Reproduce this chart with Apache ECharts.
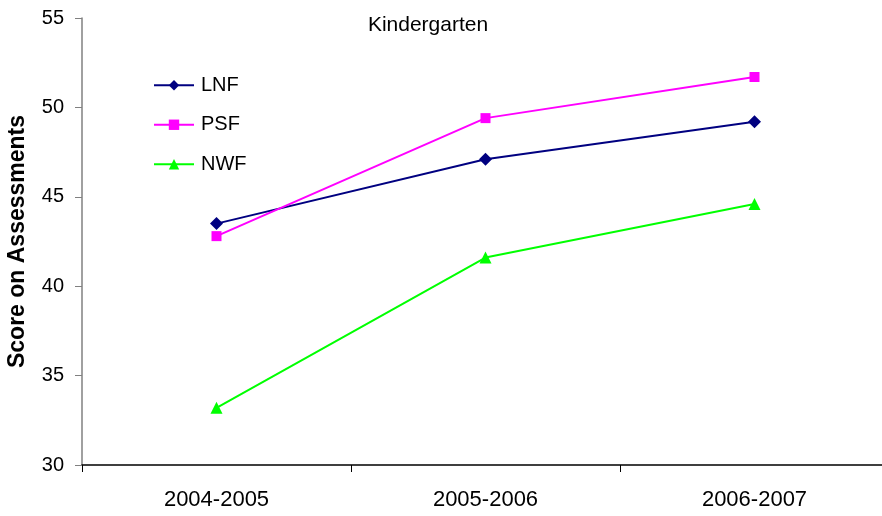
<!DOCTYPE html>
<html><head><meta charset="utf-8">
<script src="https://cdn.jsdelivr.net/npm/echarts@6/dist/echarts.min.js"></script>
<style>html,body{margin:0;padding:0;background:#fff}#c{width:882px;height:516px}</style>
</head><body><div id="c"></div>
<script>
const categories = ['2004-2005', '2005-2006', '2006-2007'];
const lnf = [43.5, 47.1, 49.2];
const psf = [42.8, 49.4, 51.7];
const nwf = [33.2, 41.6, 44.6];
const yTicks = [30, 35, 40, 45, 50, 55];

const font = '"Liberation Sans", Arial, sans-serif';
const chart = echarts.init(document.getElementById('c'));
chart.setOption({
  animation: false,
  backgroundColor: '#fff',
  title: { text: 'Kindergarten', left: 423, top: 10, textAlign: 'center',
    textStyle: { fontFamily: font, fontSize: 21, fontWeight: 'normal', color: '#000' } },
  legend: {
    orient: 'vertical', left: 153, top: 75, padding: 0, itemWidth: 40, itemHeight: 13, itemGap: 19,
    textStyle: { fontFamily: font, fontSize: 20, lineHeight: 20.5, color: '#000', padding: [0, 0, 0, 2] },
    data: ['LNF', 'PSF', 'NWF']
  },
  grid: { left: 82, top: 18, width: 807, height: 447, containLabel: false, outerBoundsMode: 'none' },
  xAxis: {
    type: 'category', data: categories, boundaryGap: true,
    axisLine: { lineStyle: { color: '#000', width: 1.5 } },
    axisTick: { show: true, length: 7, lineStyle: { color: '#000' } },
    axisLabel: { fontFamily: font, fontSize: 22, color: '#000', margin: 24 },
    splitLine: { show: false }
  },
  yAxis: {
    type: 'value', min: yTicks[0], max: yTicks[yTicks.length - 1], interval: 5,
    name: 'Score on Assessments', nameLocation: 'middle', nameGap: 53, nameRotate: 90,
    nameTextStyle: { fontFamily: font, fontSize: 23, fontWeight: 'bold', color: '#000' },
    axisLine: { show: true, lineStyle: { color: '#808080', width: 1.5 } },
    axisTick: { show: true, inside: false, length: 7, lineStyle: { color: '#808080' } },
    axisLabel: { fontFamily: font, fontSize: 20, color: '#000', margin: 18 },
    splitLine: { show: false }
  },
  series: [
    { name: 'LNF', type: 'line', data: lnf, color: '#000080', symbol: 'diamond', symbolSize: 13,
      lineStyle: { width: 2, color: '#000080' }, itemStyle: { color: '#000080' } },
    { name: 'PSF', type: 'line', data: psf, color: '#ff00ff', symbol: 'rect', symbolSize: 10,
      lineStyle: { width: 2, color: '#ff00ff' }, itemStyle: { color: '#ff00ff' } },
    { name: 'NWF', type: 'line', data: nwf, color: '#00ff00', symbol: 'triangle', symbolSize: 12,
      lineStyle: { width: 2, color: '#00ff00' }, itemStyle: { color: '#00ff00' } }
  ]
});
</script></body></html>
